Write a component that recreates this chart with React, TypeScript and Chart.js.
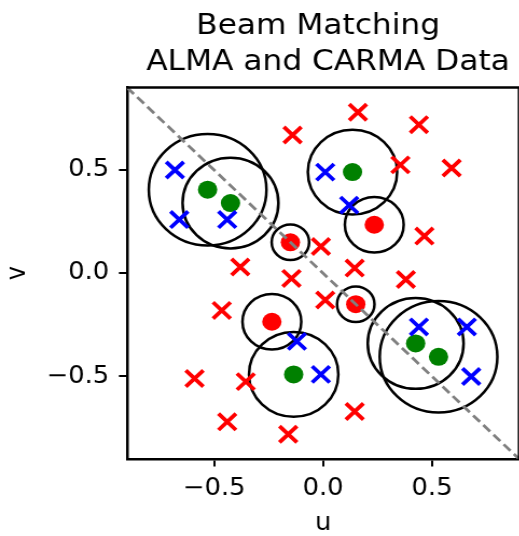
import { useEffect, useRef } from 'react';
import { Chart, registerables } from 'chart.js';

Chart.register(...registerables);

// Axis range and ticks (same for u and v)
const AXIS_MIN = -0.9;
const AXIS_MAX = 0.9;
const TICK_VALUES = [-0.5, 0, 0.5];

const TITLE_LINES = ['Beam Matching ', ' ALMA and CARMA Data'];
const X_LABEL = 'u';
const Y_LABEL = 'v';

// CARMA baselines [u, v]
const RED_CROSSES: [number, number][] = [
  [-0.14, 0.67], [0.145, -0.67],
  [0.16, 0.78], [-0.16, -0.78],
  [0.44, 0.72], [-0.44, -0.72],
  [0.355, 0.525], [-0.355, -0.525],
  [0.59, 0.51], [-0.59, -0.51],
  [0.465, 0.18], [-0.465, -0.18],
  [-0.38, 0.03], [0.38, -0.03],
  [-0.01, 0.13], [0.01, -0.13],
  [0.145, 0.025], [-0.145, -0.025],
];

// ALMA baselines [u, v]
const BLUE_CROSSES: [number, number][] = [
  [-0.68, 0.5], [0.68, -0.5],
  [-0.66, 0.26], [0.66, -0.26],
  [-0.44, 0.26], [0.44, -0.26],
  [0.01, 0.49], [-0.01, -0.49],
  [0.12, 0.33], [-0.12, -0.33],
];

// Matched beam centres [u, v, radius]
const GREEN_BEAMS: [number, number, number][] = [
  [-0.53, 0.405, 0.27], [0.53, -0.405, 0.27],
  [-0.425, 0.34, 0.22], [0.425, -0.34, 0.22],
  [0.135, 0.49, 0.205], [-0.135, -0.49, 0.205],
];

const RED_BEAMS: [number, number, number][] = [
  [-0.15, 0.15, 0.086], [0.15, -0.15, 0.086],
  [0.235, 0.235, 0.135], [-0.235, -0.235, 0.135],
];

// v = -u reference line
const DIAGONAL: [number, number][] = [
  [AXIS_MIN, AXIS_MAX],
  [AXIS_MAX, AXIS_MIN],
];

// the figure is widened horizontally: u units are longer on screen than v units
const STRETCH_X = 1.0777;
const CANVAS_W = 497;
const CANVAS_H = 536;
const FONT = 'DejaVu Sans';

const toXY = (pts: number[][]) => pts.map((p) => ({ x: p[0], y: p[1] }));
const fmtTick = (v: number) => Number(v).toFixed(1).replace('-', '\u2212');

const beamCircles = {
  id: 'beamCircles',
  beforeDatasetsDraw(chart: any) {
    const { ctx, chartArea, scales } = chart;
    const xs = scales.x;
    const ys = scales.y;
    ctx.save();
    ctx.beginPath();
    ctx.rect(chartArea.left, chartArea.top, chartArea.width, chartArea.height);
    ctx.clip();
    ctx.strokeStyle = '#000';
    ctx.lineWidth = 2.5;
    [...GREEN_BEAMS, ...RED_BEAMS].forEach(([u, v, r]) => {
      const cx = xs.getPixelForValue(u);
      const cy = ys.getPixelForValue(v);
      const rx = Math.abs(xs.getPixelForValue(u + r) - cx);
      const ry = Math.abs(ys.getPixelForValue(v + r) - cy);
      ctx.beginPath();
      ctx.ellipse(cx, cy, rx, ry, 0, 0, Math.PI * 2);
      ctx.stroke();
    });
    ctx.restore();
  },
  afterDraw(chart: any) {
    const { ctx, chartArea } = chart;
    ctx.save();
    ctx.strokeStyle = '#000';
    ctx.lineWidth = 2.5;
    ctx.beginPath();
    ctx.moveTo(chartArea.left, chartArea.top);
    ctx.lineTo(chartArea.right, chartArea.top);
    ctx.lineTo(chartArea.right, chartArea.bottom);
    ctx.stroke();
    ctx.restore();
  },
};

export default function App() {
  const canvasRef = useRef<HTMLCanvasElement | null>(null);

  useEffect(() => {
    const canvas = canvasRef.current;
    if (!canvas) return;

    const axisCommon = (isX: boolean) => ({
      type: 'linear' as const,
      min: AXIS_MIN,
      max: AXIS_MAX,
      afterBuildTicks: (scale: any) => {
        scale.ticks = TICK_VALUES.map((value) => ({ value }));
      },
      afterFit: (scale: any) => {
        if (isX) scale.height = 77;
        else scale.width = 117.85;
      },
      grid: {
        display: true,
        drawOnChartArea: false,
        drawTicks: true,
        tickLength: 7.5,
        tickWidth: 2,
        tickColor: '#000',
        color: '#000',
        lineWidth: 2,
      },
      border: { display: true, color: '#000', width: 2.5 },
      ticks: {
        color: '#000',
        padding: isX ? 8 : 9,
        font: { family: FONT, size: 24, lineHeight: 1.2 },
        callback: (v: any) => fmtTick(v),
      },
      title: {
        display: true,
        text: isX ? X_LABEL : Y_LABEL,
        color: '#000',
        font: { family: FONT, size: 24, lineHeight: 1 },
        padding: isX ? { top: 0, bottom: 0 } : { top: 4.7, bottom: 0 },
      },
    });

    const crossStyle = (color: string) => ({
      pointStyle: 'crossRot',
      pointRadius: 11.5,
      pointBorderColor: color,
      pointBackgroundColor: color,
      pointBorderWidth: 3.8,
      borderColor: color,
      backgroundColor: color,
      borderWidth: 3.8,
      showLine: false,
      order: 2,
    });

    const dotStyle = (color: string) => ({
      pointStyle: 'circle',
      pointRadius: 9,
      pointBackgroundColor: color,
      pointBorderColor: color,
      pointBorderWidth: 0,
      backgroundColor: color,
      borderColor: color,
      showLine: false,
      order: 3,
    });

    const chart = new Chart(canvas, {
      type: 'scatter',
      data: {
        datasets: [
          {
            label: 'diagonal',
            data: toXY(DIAGONAL),
            showLine: true,
            borderColor: '#808080',
            borderWidth: 2.8,
            borderDash: [9, 4.5],
            pointRadius: 0,
            order: 1,
          },
          { label: 'ALMA', data: toXY(BLUE_CROSSES), ...crossStyle('#0000ff') },
          { label: 'CARMA', data: toXY(RED_CROSSES), ...crossStyle('#ff0000') },
          { label: 'matched', data: toXY(GREEN_BEAMS), ...dotStyle('#008000') },
          { label: 'target', data: toXY(RED_BEAMS), ...dotStyle('#ff0000') },
        ],
      },
      options: {
        responsive: false,
        animation: false,
        events: [],
        layout: { padding: { top: 0, left: 0, right: CANVAS_W - 488.6, bottom: 0 } },
        scales: {
          x: { ...axisCommon(true), position: 'bottom' },
          y: { ...axisCommon(false), position: 'left' },
        },
        plugins: {
          legend: { display: false },
          tooltip: { enabled: false },
          title: {
            display: true,
            text: TITLE_LINES,
            fullSize: false,
            color: '#000',
            font: { family: FONT, size: 29, weight: 'normal', lineHeight: 36 / 29 },
            padding: { top: 8, bottom: 7.5 },
          },
        },
      },
      plugins: [beamCircles],
    } as any);

    return () => chart.destroy();
  }, []);

  return (
    <div
      style={{
        position: 'absolute',
        left: 0,
        top: 0,
        width: 519,
        height: 536,
        overflow: 'hidden',
        background: '#fff',
      }}
    >
      <canvas
        ref={canvasRef}
        width={CANVAS_W}
        height={CANVAS_H}
        style={{
          display: 'block',
          width: CANVAS_W,
          height: CANVAS_H,
          transform: `scaleX(${STRETCH_X})`,
          transformOrigin: '0 0',
        }}
      />
    </div>
  );
}
